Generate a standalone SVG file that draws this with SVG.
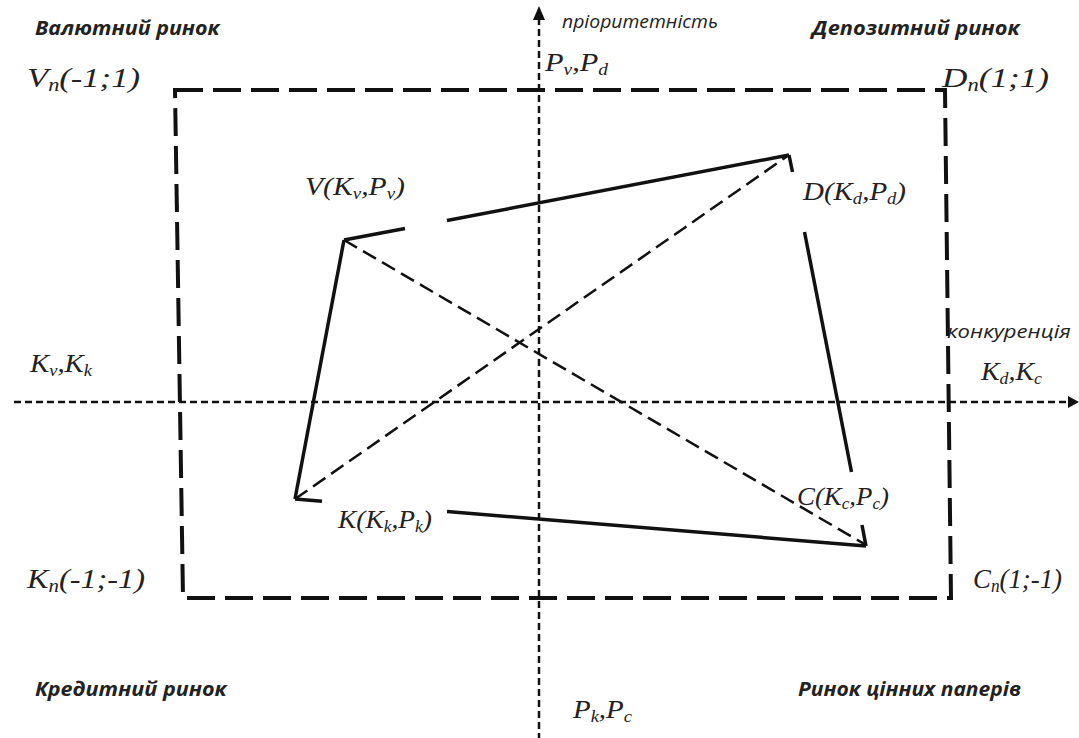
<svg xmlns="http://www.w3.org/2000/svg" width="1079" height="738" viewBox="0 0 1079 738">
<defs>
<style>
.m{font-family:"Liberation Serif",serif;font-style:italic;font-size:25px;fill:#222}
.c{font-size:28px}
.s{font-size:16px}
.c .s{font-size:18px}
.q{font-family:"Open Sans","Noto Sans",sans-serif;font-style:italic;font-weight:bold;font-size:19px;fill:#222}
.a{font-family:"Open Sans","Noto Sans",sans-serif;font-style:italic;font-size:19px;fill:#222}
.axis{stroke:#111;stroke-width:2.5;fill:none;stroke-dasharray:7 4}
.box{stroke:#111;stroke-width:4;fill:none;stroke-dasharray:28 10}
.sol{stroke:#111;stroke-width:3.5;fill:none}
.dsh{stroke:#111;stroke-width:2.5;fill:none;stroke-dasharray:15 7}
</style>
</defs>
<rect width="1079" height="738" fill="#fff"/>
<g id="axes">
<line class="axis" x1="539" y1="18" x2="539" y2="738"/>
<polygon points="539,6 533,20 545,20" fill="#111"/>
<line class="axis" x1="14" y1="402" x2="1068" y2="402"/>
<polygon points="1079,402 1068,396 1068,408" fill="#111"/>
</g>
<g id="boundary">
<path class="box" d="M175,90 L945,90 L951,598 L183,598 Z"/>
</g>
<g id="connectors">
<line class="sol" x1="344" y1="240" x2="405" y2="228.5"/>
<line class="sol" x1="447" y1="220.5" x2="789" y2="155"/>
<line class="sol" x1="789" y1="155" x2="792.5" y2="172"/>
<line class="sol" x1="804.5" y1="232" x2="851.5" y2="472"/>
<line class="sol" x1="862" y1="525" x2="866" y2="546"/>
<line class="sol" x1="866" y1="546" x2="447" y2="511.5"/>
<line class="sol" x1="322" y1="501.2" x2="295" y2="499"/>
<line class="sol" x1="295" y1="499" x2="344" y2="240"/>
<line class="dsh" x1="344" y1="240" x2="866" y2="545"/>
<line class="dsh" x1="295" y1="499" x2="789" y2="155"/>
</g>
<g id="node-V">
<text class="m" x="305" y="195" textLength="100" lengthAdjust="spacingAndGlyphs">V(K<tspan class="s" dy="4">v</tspan><tspan dy="-4">,P</tspan><tspan class="s" dy="4">v</tspan><tspan dy="-4">)</tspan></text>
</g>
<g id="node-D">
<text class="m" x="803" y="200" textLength="103" lengthAdjust="spacingAndGlyphs">D(K<tspan class="s" dy="4">d</tspan><tspan dy="-4">,P</tspan><tspan class="s" dy="4">d</tspan><tspan dy="-4">)</tspan></text>
</g>
<g id="node-C">
<text class="m" x="797" y="505" textLength="92" lengthAdjust="spacingAndGlyphs">C(K<tspan class="s" dy="4">c</tspan><tspan dy="-4">,P</tspan><tspan class="s" dy="4">c</tspan><tspan dy="-4">)</tspan></text>
</g>
<g id="node-K">
<text class="m" x="338" y="528" textLength="94" lengthAdjust="spacingAndGlyphs">K(K<tspan class="s" dy="4">k</tspan><tspan dy="-4">,P</tspan><tspan class="s" dy="4">k</tspan><tspan dy="-4">)</tspan></text>
</g>
<g id="corner-Vn">
<text class="m c" x="27" y="87" textLength="113" lengthAdjust="spacingAndGlyphs">V<tspan class="s" dy="4">n</tspan><tspan dy="-4">(-1;1)</tspan></text>
</g>
<g id="corner-Dn">
<text class="m c" x="942" y="87" textLength="107" lengthAdjust="spacingAndGlyphs">D<tspan class="s" dy="4">n</tspan><tspan dy="-4">(1;1)</tspan></text>
</g>
<g id="corner-Kn">
<text class="m c" x="27" y="588" textLength="118" lengthAdjust="spacingAndGlyphs">K<tspan class="s" dy="4">n</tspan><tspan dy="-4">(-1;-1)</tspan></text>
</g>
<g id="corner-Cn">
<text class="m c" x="973" y="588" textLength="89" lengthAdjust="spacingAndGlyphs">C<tspan class="s" dy="4">n</tspan><tspan dy="-4">(1;-1)</tspan></text>
</g>
<g id="axis-labels">
<text class="m" x="545" y="71" textLength="63" lengthAdjust="spacingAndGlyphs">P<tspan class="s" dy="4">v</tspan><tspan dy="-4">,P</tspan><tspan class="s" dy="4">d</tspan></text>
<text class="m" x="30" y="372" textLength="62" lengthAdjust="spacingAndGlyphs">K<tspan class="s" dy="4">v</tspan><tspan dy="-4">,K</tspan><tspan class="s" dy="4">k</tspan></text>
<text class="m" x="981" y="380" textLength="61" lengthAdjust="spacingAndGlyphs">K<tspan class="s" dy="4">d</tspan><tspan dy="-4">,K</tspan><tspan class="s" dy="4">c</tspan></text>
<text class="m" x="573" y="718" textLength="59" lengthAdjust="spacingAndGlyphs">P<tspan class="s" dy="4">k</tspan><tspan dy="-4">,P</tspan><tspan class="s" dy="4">c</tspan></text>
<text class="a" x="562" y="28" textLength="156" lengthAdjust="spacingAndGlyphs">пріоритетність</text>
<text class="a" x="947" y="338" textLength="124" lengthAdjust="spacingAndGlyphs">конкуренція</text>
</g>
<g id="markets">
<text class="q" x="35" y="35" textLength="185" lengthAdjust="spacingAndGlyphs">Валютний ринок</text>
<text class="q" x="812" y="35" textLength="208" lengthAdjust="spacingAndGlyphs">Депозитний ринок</text>
<text class="q" x="35" y="696" textLength="192" lengthAdjust="spacingAndGlyphs">Кредитний ринок</text>
<text class="q" x="798" y="696" textLength="223" lengthAdjust="spacingAndGlyphs">Ринок цінних паперів</text>
</g>
</svg>
